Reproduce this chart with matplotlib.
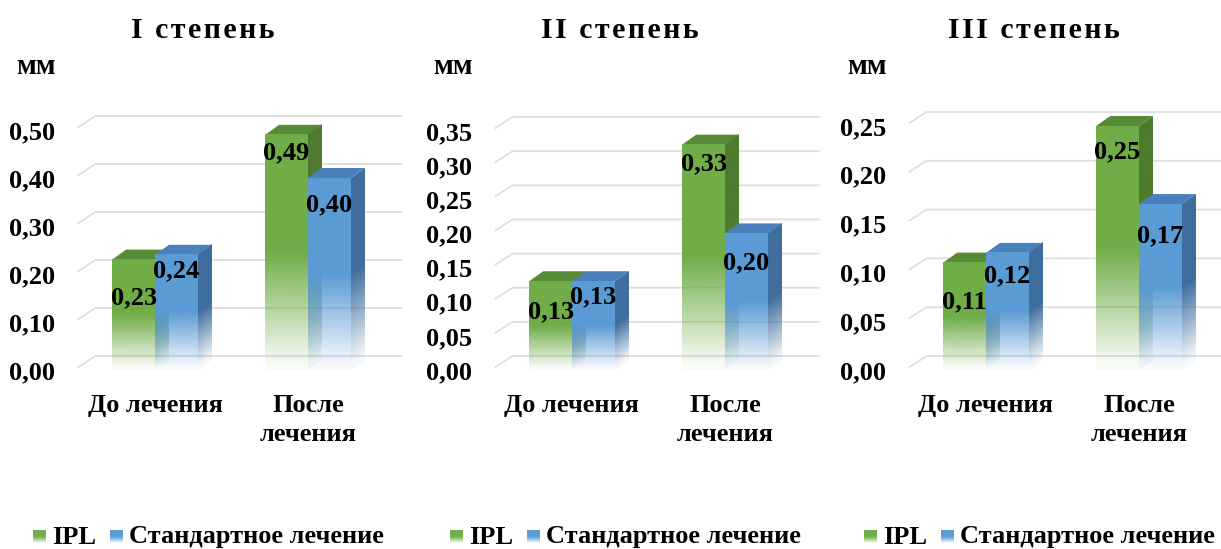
import numpy as np
import matplotlib
matplotlib.use('Agg')
import matplotlib.pyplot as plt
from matplotlib.patches import Polygon
from matplotlib.transforms import Affine2D, IdentityTransform

plt.rcParams['font.family'] = ['Liberation Serif', 'DejaVu Serif']
plt.rcParams['font.weight'] = 'bold'

# ── data ──
titles = ['I степень', 'II степень', 'III степень']
categories = ['До лечения', 'После\nлечения']
series_names = ['IPL', 'Стандартное лечение']
ipl = [[0.23, 0.49], [0.13, 0.33], [0.11, 0.25]]
standard = [[0.24, 0.40], [0.13, 0.20], [0.12, 0.17]]
y_max = [0.50, 0.35, 0.25]
y_step = [0.10, 0.05, 0.05]
unit = 'мм'

# label offsets below bar top (px), per panel: [ipl, standard]
lab_off = [[[38, 18], [16, 27]],
           [[31, 19], [16, 29]],
           [[39, 26], [23, 32]]]

GREEN, GREEN_SIDE, GREEN_TOP = '#70AD47', '#4E7B2F', '#578A36'
BLUE, BLUE_SIDE, BLUE_TOP = '#5B9BD5', '#3E6E9E', '#4A80BC'
GRID = '#DEDEDE'

W, H = 1221, 549
DX, DY = 14, 10      # bar depth in px
GX, GY = 17, 14      # back wall offset
BW = 0.28

# panel boxes in px from top-left: left, right, top, bottom
boxes = [(78.5, 384.5, 130, 370), (495.5, 801.5, 131, 370), (909.5, 1215.5, 126, 370)]

fig = plt.figure(figsize=(W / 100, H / 100), dpi=100)
over = fig.add_axes([0, 0, 1, 1], zorder=5)
over.set_xlim(0, W)
over.set_ylim(H, 0)
over.axis('off')


def grad(color, n=120):
    rgb = matplotlib.colors.to_rgb(color)
    t = np.linspace(0, 1, n)
    a = np.clip(t / 0.5, 0.05, 1.0)
    arr = np.zeros((n, 1, 4))
    arr[:, 0, :3] = rgb
    arr[:, 0, 3] = a
    return arr


def draw_bar(ax, x0, h, front, side, top):
    X0, Y0 = ax.transData.transform((x0, 0))
    X1, Y1 = ax.transData.transform((x0 + BW, h))
    ax.imshow(grad(side), origin='lower', extent=(0, 1, 0, 1), aspect='auto',
              transform=Affine2D.from_values(DX, DY, 0, Y1 - Y0, X1, Y0),
              clip_on=False, zorder=2, interpolation='bilinear')
    ax.add_patch(Polygon([(X0, Y1), (X1, Y1), (X1 + DX, Y1 + DY), (X0 + DX, Y1 + DY)],
                         closed=True, facecolor=top, edgecolor='none',
                         transform=IdentityTransform(), clip_on=False, zorder=2))
    ax.imshow(grad(front), origin='lower', extent=(0, 1, 0, 1), aspect='auto',
              transform=Affine2D.from_values(X1 - X0, 0, 0, Y1 - Y0, X0, Y0),
              clip_on=False, zorder=2, interpolation='bilinear')


for p in range(3):
    l, r, t, b = boxes[p]
    ax = fig.add_axes([l / W, (H - b) / H, (r - l) / W, (b - t) / H])
    ax.set_xlim(-0.5, 1.5)
    ax.set_ylim(0, y_max[p])
    for s in ax.spines.values():
        s.set_visible(False)
    ticks = np.round(np.arange(0, y_max[p] + 1e-9, y_step[p]), 2)
    ax.set_yticks(ticks)
    ax.set_yticklabels([f'{v:.2f}'.replace('.', ',') for v in ticks], fontsize=19)
    ax.set_xticks([0, 1])
    ax.set_xticklabels(categories, fontsize=19, linespacing=1.35)
    ax.tick_params(length=0)
    ax.tick_params(axis='y', pad=17)
    ax.tick_params(axis='x', pad=17)
    ax.set_facecolor('none')

    # back wall gridlines
    for v in ticks:
        Xa, Ya = ax.transData.transform((-0.5, v))
        Xb, _ = ax.transData.transform((1.5, v))
        ax.plot([Xa, Xa + GX, Xb + GX], [Ya + 3, Ya + GY, Ya + GY], color=GRID, lw=1.3,
                transform=IdentityTransform(), clip_on=False, zorder=1)

    for i in range(2):
        draw_bar(ax, i - BW, ipl[p][i], GREEN, GREEN_SIDE, GREEN_TOP)
        draw_bar(ax, i, standard[p][i], BLUE, BLUE_SIDE, BLUE_TOP)
        for k, (vals, x0) in enumerate([(ipl[p], i - BW), (standard[p], i)]):
            ax.annotate(f'{vals[i]:.2f}'.replace('.', ','), xy=(x0 + BW / 2, vals[i]),
                        xytext=(0, -lab_off[p][k][i]), textcoords='offset pixels',
                        ha='center', va='center', fontsize=19, zorder=6,
                        annotation_clip=False)

    # titles, unit, legend
    over.text(l + 124, 31, '\u200a'.join(titles[p]), ha='center', va='center', fontsize=21.5)
    over.text(l - 42.5, 66, unit, ha='center', va='center', fontsize=21)
    for k, (c, name) in enumerate([(GREEN, series_names[0]), (BLUE, series_names[1])]):
        sx = l - 45.5 + k * 77
        over.imshow(grad(c)[::-1], extent=(sx, sx + 13, 543, 530), aspect='auto',
                    origin='upper', interpolation='bilinear')
        over.text(sx + 19, 537, name, ha='left', va='center', fontsize=19)

over.set_xlim(0, W)
over.set_ylim(H, 0)
fig.savefig('out.png', dpi=100, facecolor='white')
